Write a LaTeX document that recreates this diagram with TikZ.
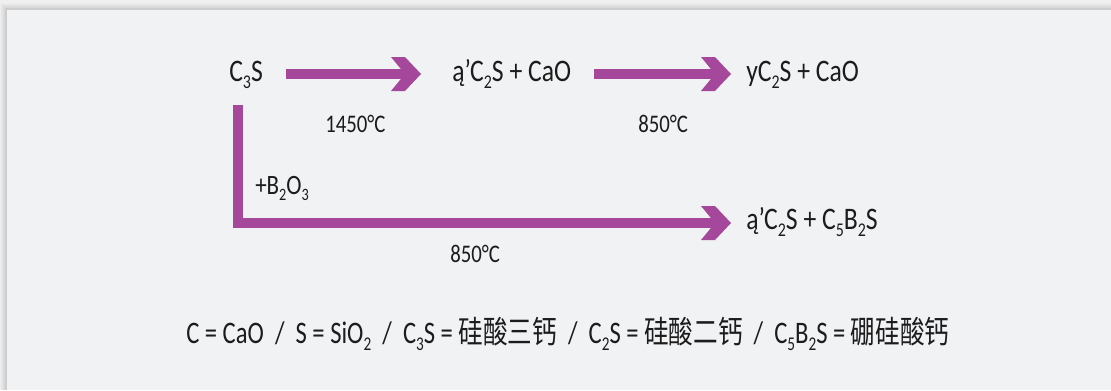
\documentclass[tikz,border=0pt]{standalone}
\usepackage{fontspec}
\setmainfont{Carlito}
\newfontfamily\cjk{Noto Sans CJK SC}
\usepackage{tikz}
\usetikzlibrary{calc}
\definecolor{panelgrey}{HTML}{F1F2F4}
\definecolor{shadowgrey}{HTML}{E4E4E4}
\definecolor{flowpurple}{HTML}{A5479A}
\definecolor{inkblack}{HTML}{1C1C1C}
\newcommand\sbs[1]{\raisebox{-0.24em}{\scalebox{0.62}{#1}}}
\newcommand\narrow[2][0.82]{\scalebox{#1}[1]{#2}}
\def\chevron(#1)(#2){\fill[flowpurple] ($(#1)+(-30,-#2)$) -- ++(14,0) -- (#1) -- ($(#1)+(-16,#2)$) -- ++(-14,0) -- ($(#1)+(-16,0)$) -- cycle;}

\begin{document}
\begin{tikzpicture}[x=0.75pt,y=-0.75pt,
	chem/.style={inkblack,inner sep=0pt,anchor=base west,font=\fontsize{23.5}{28}\selectfont},
	temp/.style={inkblack,inner sep=0pt,anchor=base west,font=\fontsize{19}{23}\selectfont},
	addlabel/.style={inkblack,inner sep=0pt,anchor=base west,font=\fontsize{21}{25}\selectfont},
	shaft/.style={flowpurple,line width=7.9pt,miter limit=10}]
	%%%%% START %%%%%
	\def\W{1111}
	\def\H{390}
	\def\gap{23}
	\def\head{17}

	\useasboundingbox (0,0) rectangle (\W,\H);
	\fill[shadowgrey!60!white] (0,0) rectangle (\W,\H);
	\foreach \s/\o in {6/0.15,4/0.2,2/0.3}
		\fill[black!30,opacity=\o] (7-\s,10-\s) rectangle (\W,\H);
	\fill[panelgrey] (7,10) rectangle (\W,\H);

	\coordinate (row1) at (0,74);
	\coordinate (row2) at (0,223);

	\node[chem] (c3s) at (229,81) {\narrow{C\sbs{3}S}};
	\node[chem] (alpha) at (452,81) {\narrow{ą’C\sbs{2}S + CaO}};
	\node[chem] (gamma) at (746,81) {\narrow{yC\sbs{2}S + CaO}};
	\node[chem] (boro) at (746,229) {\narrow{ą’C\sbs{2}S + C\sbs{5}B\sbs{2}S}};

	\node[temp] (t1) at (325,132) {\narrow{1450°C}};
	\node[temp] (t2) at (638,132) {\narrow{850°C}};
	\node[temp] (t3) at (450,262) {\narrow{850°C}};
	\node[addlabel] (b2o3) at (255,194) {\narrow{+B\sbs{2}O\sbs{3}}};

	\node[chem] (key) at (186,343) {\narrow[0.785]{C = CaO~ /~ S = SiO\sbs{2}~ /~ C\sbs{3}S = {\cjk 硅酸三钙}~ /~ C\sbs{2}S = {\cjk 硅酸二钙}~ /~ C\sbs{5}B\sbs{2}S = {\cjk 硼硅酸钙}}};

	% tips of the three arrows
	\coordinate (tip1) at ($(alpha.west |- row1)+(-31,0)$);
	\coordinate (tip2) at ($(gamma.west |- row1)+(-15,0)$);
	\coordinate (tip3) at ($(boro.west |- row2)+(-15,0)$);
	\coordinate (bend) at (238,223);

	\draw[shaft] ($(c3s.east |- row1)+(\gap,0)$) -- ($(tip1)+(-16,0)$);
	\draw[shaft] ($(alpha.east |- row1)+(\gap,0)$) -- ($(tip2)+(-16,0)$);
	\draw[shaft] (bend |- 0,105) -- (bend) -- ($(tip3)+(-16,0)$);

	\chevron(tip1)(\head)
	\chevron(tip2)(\head)
	\chevron(tip3)(\head)
	%%%%% END %%%%%
\end{tikzpicture}
\end{document}
